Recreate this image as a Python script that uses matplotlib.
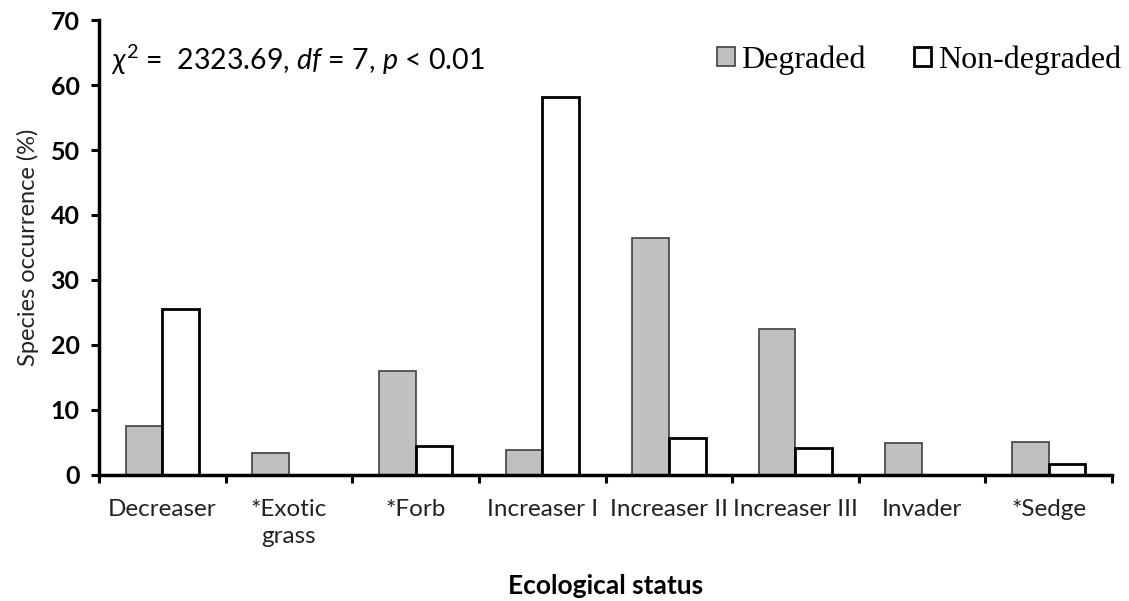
import matplotlib
matplotlib.use("Agg")
import matplotlib.pyplot as plt
import numpy as np

categories = ["Decreaser", "*Exotic\ngrass", "*Forb", "Increaser I", "Increaser II",
              "Increaser III", "Invader", "*Sedge"]
degraded = [7.5, 3.4, 16.0, 3.8, 36.5, 22.5, 4.9, 5.1]
non_degraded = [25.5, 0.0, 4.5, 58.2, 5.7, 4.1, 0.0, 1.7]
yticks = [0, 10, 20, 30, 40, 50, 60, 70]

plt.rcParams['mathtext.fontset'] = 'custom'
plt.rcParams['mathtext.rm'] = 'Lato'
plt.rcParams['mathtext.it'] = 'Lato:italic'

fig = plt.figure(figsize=(11.29, 6.01), dpi=100)
ax = fig.add_axes([0.0877, 0.2097, 0.8973, 0.757])

x = np.arange(len(categories))
w = 0.29
ax.bar(x - w/2, degraded, w, color="#c0c0c0", edgecolor="#404040", linewidth=1.2, label="Degraded")
ax.bar(x + w/2, non_degraded, w, color="white", edgecolor="black", linewidth=2.0, label="Non-degraded")

ax.set_xlim(-0.5, len(categories) - 0.5)
ax.set_ylim(0, 70)
ax.set_yticks(yticks)
ax.set_yticklabels([str(t) for t in yticks], fontfamily="Lato", fontweight="bold", fontsize=18)
ax.set_xticks(np.arange(-0.5, len(categories), 1.0))
ax.set_xticklabels([])
ax.set_xticks(x, minor=True)
ax.set_xticklabels(categories, minor=True, fontfamily="Lato", fontsize=17.5, color="#222222",
                   linespacing=1.35)
ax.tick_params(axis="x", which="minor", length=0, pad=17)
ax.tick_params(axis="x", which="major", length=6, width=2.2, direction="out")
ax.tick_params(axis="y", length=6, width=2.2, direction="out", pad=8)

for s in ["top", "right"]:
    ax.spines[s].set_visible(False)
for s in ["left", "bottom"]:
    ax.spines[s].set_linewidth(2.5)

ax.set_ylabel("Species occurrence (%)", fontfamily="Lato", fontsize=17, labelpad=8, color="#222222")
ax.set_xlabel("Ecological status", fontfamily="Lato", fontsize=19, fontweight="bold", labelpad=20)

ax.text(0.012, 0.913, r"$\chi^2$ =  2323.69, $df$ = 7, $p$ < 0.01", transform=ax.transAxes,
        fontsize=20.5, fontfamily="Lato", va="center", ha="left")

leg = ax.legend(loc="upper right", bbox_to_anchor=(1.037, 1.008), ncol=2, frameon=False,
                prop={"family": "Liberation Serif", "size": 23}, handlelength=0.55,
                handleheight=0.55, handletextpad=0.2, columnspacing=1.5)

fig.savefig("out.png", dpi=100)
